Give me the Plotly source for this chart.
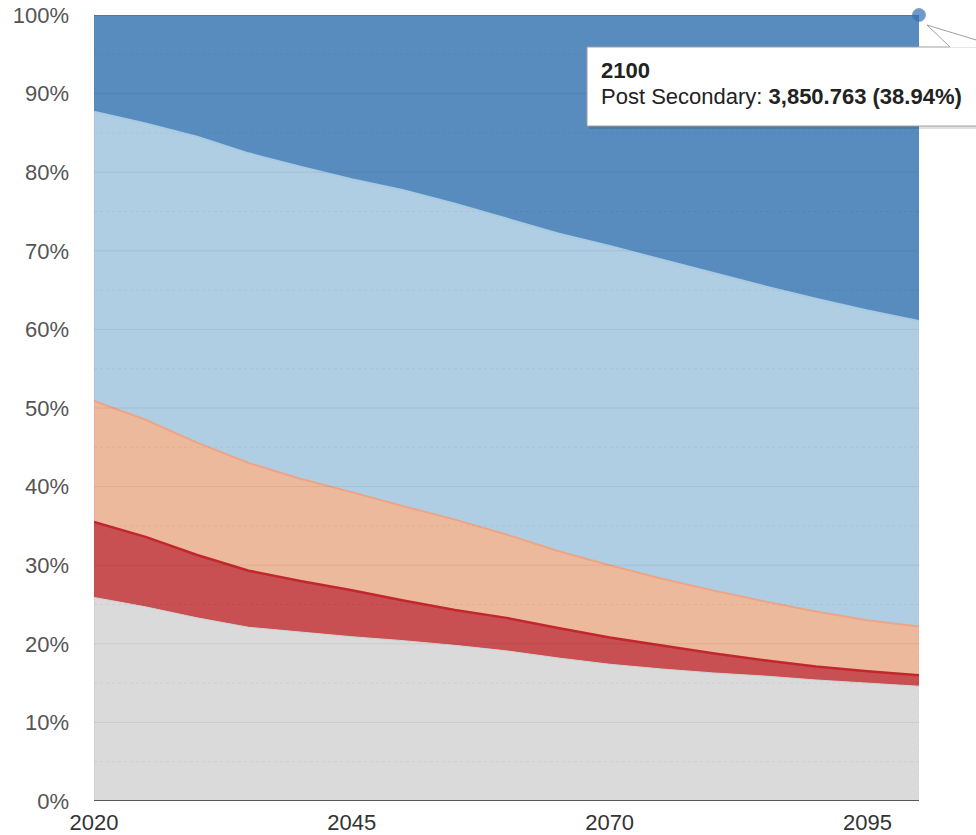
import plotly.graph_objects as go

years = [2020, 2025, 2030, 2035, 2040, 2045, 2050, 2055, 2060, 2065, 2070, 2075, 2080, 2085, 2090, 2095, 2100]

# shares (%) of each group
under_15 = [25.9, 24.7, 23.3, 22.1, 21.5, 20.9, 20.4, 19.8, 19.1, 18.2, 17.4, 16.8, 16.3, 15.9, 15.4, 15.0, 14.6]
no_education = [9.6, 8.9, 8.0, 7.2, 6.5, 5.9, 5.1, 4.5, 4.2, 3.8, 3.4, 3.0, 2.5, 2.0, 1.7, 1.5, 1.4]
primary = [15.4, 14.9, 14.3, 13.7, 13.0, 12.5, 12.0, 11.5, 10.6, 9.8, 9.2, 8.5, 8.0, 7.5, 7.0, 6.5, 6.2]
secondary = [36.8, 37.7, 38.9, 39.4, 39.7, 39.8, 40.2, 40.2, 40.2, 40.4, 40.6, 40.6, 40.4, 40.1, 39.8, 39.4, 38.86]
post_secondary = [12.3, 13.8, 15.5, 17.6, 19.3, 20.9, 22.3, 24.0, 25.9, 27.8, 29.4, 31.1, 32.8, 34.5, 36.1, 37.6, 38.94]

x_ticks = [2020, 2045, 2070, 2095]
y_ticks = [0, 10, 20, 30, 40, 50, 60, 70, 80, 90, 100]
y_tick_text = [f"{v}%" for v in y_ticks]

tooltip_title = "2100"
tooltip_label = "Post Secondary: "
tooltip_value = "3,850.763 (38.94%)"

series = [
    ("Under 15", under_15, "#DADADA", "#D2D2D2", 1),
    ("No Education", no_education, "#C85052", "#C1272D", 2.5),
    ("Primary", primary, "#EDB99D", "#EBA587", 2),
    ("Secondary", secondary, "#B0CEE3", "#A8CAE2", 2),
    ("Post Secondary", post_secondary, "#588CBE", "#3F74AD", 1.5),
]

fig = go.Figure()
for name, vals, fill, line, lw in series:
    if name == "Post Secondary":
        kw = dict(mode="lines+markers", cliponaxis=False,
                  marker=dict(size=[0] * (len(vals) - 1) + [13], color="#3270B3",
                              line=dict(color="rgba(70,120,180,0.9)", width=1)))
    else:
        kw = dict(mode="lines")
    fig.add_trace(go.Scatter(
        x=years, y=vals, name=name, stackgroup="one", groupnorm="percent",
        fillcolor=fill, line=dict(color=line, width=lw, shape="linear"), **kw))

# plot area pixel geometry
L, R, T, B = 94, 919, 15, 801
W, H = 976, 835


def px(x):
    return (x - L) / (R - L)


def py(y):
    return (B - y) / (B - T)


shapes = []
for v in range(5, 100, 5):
    shapes.append(dict(type="line", xref="paper", yref="y", x0=0, x1=1, y0=v, y1=v,
                       line=dict(color="rgba(0,0,0,0.07)" if v % 10 == 0 else "rgba(0,0,0,0.05)",
                                 width=1, dash="solid" if v % 10 == 0 else "dot"),
                       layer="above"))
# left & right faint edges
shapes.append(dict(type="line", xref="x", yref="paper", x0=2020, x1=2020, y0=0, y1=1,
                   line=dict(color="rgba(0,0,0,0.08)", width=1), layer="above"))
shapes.append(dict(type="line", xref="x", yref="paper", x0=2100, x1=2100, y0=0, y1=1,
                   line=dict(color="rgba(0,0,0,0.06)", width=1, dash="dot"), layer="above"))
# bottom axis line
shapes.append(dict(type="line", xref="paper", yref="y", x0=0, x1=1, y0=0, y1=0,
                   line=dict(color="#555555", width=2), layer="above"))

# tooltip shadow + box
shapes.append(dict(type="rect", xref="paper", yref="paper",
                   x0=px(589), x1=px(1000), y0=py(129), y1=py(49),
                   fillcolor="rgba(0,0,0,0.12)", line=dict(width=0), layer="above"))
shapes.append(dict(type="rect", xref="paper", yref="paper",
                   x0=px(587), x1=px(1000), y0=py(126), y1=py(47),
                   fillcolor="white", line=dict(color="#A0A0A0", width=1), layer="above"))
# tail
tail_fill = f"M {px(950)},{py(47.5)} L {px(927)},{py(25)} L {px(999)},{py(47.5)} Z"
shapes.append(dict(type="path", xref="paper", yref="paper", path=tail_fill,
                   fillcolor="white", line=dict(width=0), layer="above"))
tail_line = f"M {px(950)},{py(47)} L {px(927)},{py(25)} L {px(999)},{py(47)}"
shapes.append(dict(type="path", xref="paper", yref="paper", path=tail_line,
                   line=dict(color="#A0A0A0", width=1), layer="above"))

tip_font = dict(family="Liberation Sans, Arial, sans-serif", size=22, color="#222222")
annotations = [
    dict(xref="paper", yref="paper", x=px(599), y=py(71), xanchor="left", yanchor="middle",
         text=f"<b>{tooltip_title}</b>", showarrow=False, font=tip_font),
    dict(xref="paper", yref="paper", x=px(599), y=py(97), xanchor="left", yanchor="middle",
         text=f"{tooltip_label}<b>{tooltip_value}</b>", showarrow=False, font=tip_font),
]

fig.update_layout(
    width=W, height=H,
    margin=dict(l=L, r=W - R, t=T, b=H - B, pad=0),
    paper_bgcolor="white", plot_bgcolor="white",
    showlegend=False,
    shapes=shapes,
    annotations=annotations,
    font=dict(family="Liberation Sans, Arial, sans-serif"),
    xaxis=dict(range=[2020, 2100], tickvals=x_ticks, showgrid=False, zeroline=False,
               showline=False, ticks="", ticklabelstandoff=6, automargin=False,
               tickfont=dict(size=22, color="#333333")),
    yaxis=dict(range=[0, 100], tickvals=y_ticks, ticktext=y_tick_text, showgrid=False,
               zeroline=False, showline=False, ticks="", ticklabelstandoff=24, automargin=False,
               tickfont=dict(size=22, color="#555555")),
)

fig.write_html("out.html", config={"displayModeBar": False},
               post_script="document.body.style.margin='0';document.body.style.overflow='hidden';")
